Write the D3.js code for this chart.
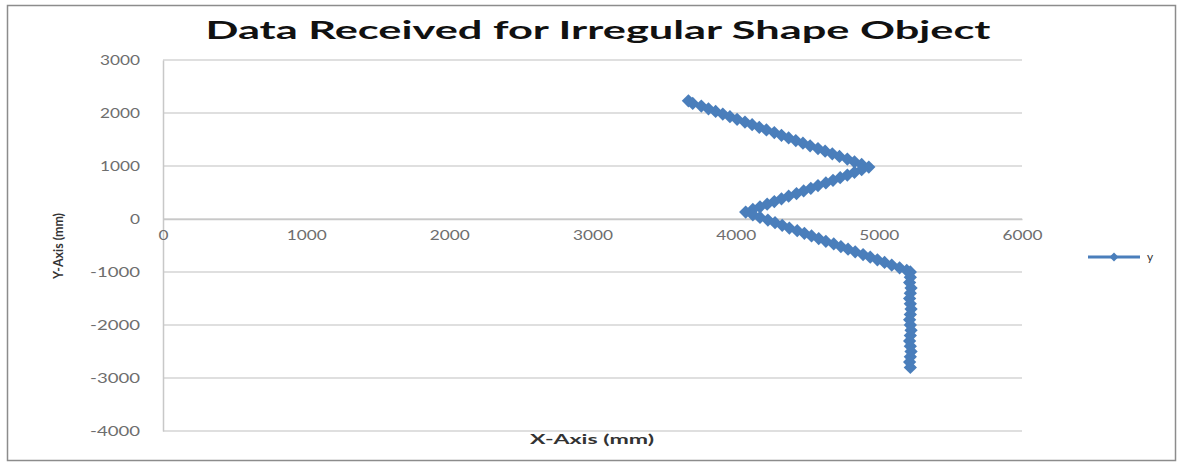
<!DOCTYPE html>
<html>
<head>
<meta charset="utf-8">
<script src="https://cdn.jsdelivr.net/npm/d3@7"></script>
<style>
  body { margin: 0; background: #fff; }
  text { font-family: "Lato", "Open Sans", sans-serif; }
</style>
</head>
<body>
<div id="chart"></div>
<script>
// data (mm)
const xValues = [
    3670, 3700, 3760, 3810, 3860, 3910, 3960, 4010, 4065, 4115, 4165, 4215, 4270, 4320, 4370, 4420, 4470, 4520, 4575, 4625, 4675, 4725, 4780, 4830, 4880, 4930,
    4880, 4830, 4780, 4730, 4680, 4630, 4575, 4525, 4475, 4425, 4370, 4320, 4270, 4220, 4170, 4120, 4070,
    4120, 4170, 4225, 4275, 4325, 4375, 4430, 4480, 4530, 4580, 4630, 4685, 4735, 4785, 4835, 4890, 4940, 4990, 5040, 5090, 5145, 5195, 5220,
    5220, 5215, 5225, 5220, 5215, 5220, 5225, 5220, 5215, 5220, 5225, 5220, 5215, 5220, 5225, 5220, 5215, 5220];
const yValues = [
    2230, 2180, 2130, 2080, 2030, 1980, 1930, 1880, 1830, 1780, 1730, 1680, 1630, 1580, 1530, 1480, 1430, 1380, 1330, 1280, 1230, 1180, 1130, 1080, 1030, 980,
    930, 880, 830, 780, 730, 680, 630, 580, 530, 480, 430, 380, 330, 280, 230, 180, 130,
    80, 30, -20, -70, -120, -170, -220, -270, -320, -370, -420, -470, -520, -570, -620, -670, -720, -770, -820, -870, -920, -970, -1000,
    -1100, -1200, -1300, -1400, -1500, -1600, -1700, -1800, -1900, -2000, -2100, -2200, -2300, -2400, -2500, -2600, -2700, -2800];
const xTicks = [0, 1000, 2000, 3000, 4000, 5000, 6000];
const yTicks = [3000, 2000, 1000, 0, -1000, -2000, -3000, -4000];
const seriesName = "y";

const data = xValues.map((x, i) => ({x: x, y: yValues[i]}));

const width = 1182, height = 464;
const plot = {left: 163, right: 1022, top: 60, bottom: 431};
const blue = "#4a7ebb";

const svg = d3.select("#chart").append("svg")
    .attr("width", width)
    .attr("height", height);

// chart frame
svg.append("rect")
    .attr("x", 7.5).attr("y", 5.5)
    .attr("width", 1168).attr("height", 455)
    .attr("fill", "#fff")
    .attr("stroke", "#8c8c8c")
    .attr("stroke-width", 1.5);

const x = d3.scaleLinear().domain([0, 6000]).range([plot.left, plot.right]);
const y = d3.scaleLinear().domain([-4000, 3000]).range([plot.bottom, plot.top]);

// the original picture is stretched sideways, so labels get a wider length
const labelLength = s => s.length === 1 ? 10 : s.length * 10;
const plainNumber = d => String(d);   // plain hyphen for negatives, no grouping

// gridlines
svg.append("g").selectAll("line")
    .data(yTicks)
    .join("line")
    .attr("x1", plot.left).attr("x2", plot.right)
    .attr("y1", d => y(d)).attr("y2", d => y(d))
    .attr("stroke", "#d4d4d4")
    .attr("stroke-width", 1.5);

// y axis
const yAxis = svg.append("g")
    .attr("transform", `translate(${plot.left},0)`)
    .call(d3.axisLeft(y).tickValues(yTicks).tickFormat(plainNumber).tickSize(0).tickPadding(23));
yAxis.select(".domain").attr("stroke", "#c8c8c8").attr("stroke-width", 1.5);
yAxis.selectAll("text")
    .attr("font-size", 12.5).attr("fill", "#6e6e6e")
    .attr("textLength", d => labelLength(plainNumber(d)))
    .attr("lengthAdjust", "spacingAndGlyphs");

// x axis crosses at y = 0
const xAxis = svg.append("g")
    .attr("transform", `translate(0,${y(0)})`)
    .call(d3.axisBottom(x).tickValues(xTicks).tickFormat(plainNumber).tickSize(0).tickPadding(12));
xAxis.select(".domain").attr("stroke", "#c8c8c8").attr("stroke-width", 1.5);
xAxis.selectAll("text")
    .attr("font-size", 12.5).attr("fill", "#6e6e6e")
    .attr("textLength", d => labelLength(plainNumber(d)))
    .attr("lengthAdjust", "spacingAndGlyphs");

// series line
const line = d3.line().x(d => x(d.x)).y(d => y(d.y));
svg.append("path")
    .datum(data)
    .attr("fill", "none")
    .attr("stroke", blue)
    .attr("stroke-width", 4)
    .attr("d", line);

// diamond markers (square turned 45 degrees, like Excel)
const diamond = d3.symbol().type(d3.symbolSquare).size(88);
svg.append("g").selectAll("path")
    .data(data)
    .join("path")
    .attr("transform", d => `translate(${x(d.x)},${y(d.y)}) rotate(45)`)
    .attr("d", diamond)
    .attr("fill", blue);

// title
svg.append("text")
    .attr("x", 598).attr("y", 39)
    .attr("text-anchor", "middle")
    .attr("font-size", 25)
    .attr("font-weight", "bold")
    .attr("fill", "#111")
    .attr("textLength", 785)
    .attr("lengthAdjust", "spacingAndGlyphs")
    .text("Data Received for Irregular Shape Object");

// axis titles
svg.append("text")
    .attr("x", 592).attr("y", 444)
    .attr("text-anchor", "middle")
    .attr("font-size", 13)
    .attr("font-weight", "bold")
    .attr("fill", "#333")
    .attr("textLength", 124)
    .attr("lengthAdjust", "spacingAndGlyphs")
    .text("X-Axis (mm)");

svg.append("text")
    .attr("transform", "translate(63,246) rotate(-90)")
    .attr("text-anchor", "middle")
    .attr("font-size", 13)
    .attr("font-weight", "bold")
    .attr("fill", "#333")
    .attr("textLength", 66)
    .attr("lengthAdjust", "spacingAndGlyphs")
    .text("Y-Axis (mm)");

// legend
const legend = svg.append("g").attr("transform", "translate(1088,257)");
legend.append("line")
    .attr("x1", 0).attr("x2", 52)
    .attr("stroke", blue).attr("stroke-width", 3);
legend.append("path")
    .attr("transform", "translate(26,0) rotate(45)")
    .attr("d", d3.symbol().type(d3.symbolSquare).size(40))
    .attr("fill", blue);
legend.append("text")
    .attr("x", 59).attr("y", 4)
    .attr("font-size", 12)
    .attr("fill", "#333")
    .text(seriesName);
</script>
</body>
</html>
